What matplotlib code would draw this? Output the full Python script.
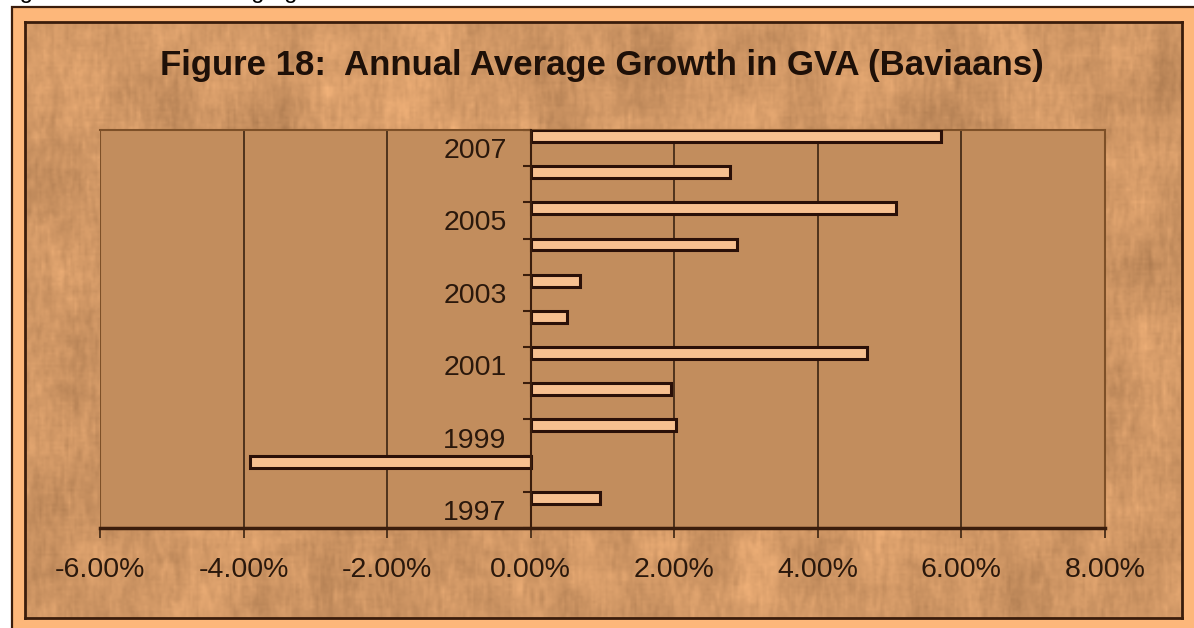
import numpy as np
import matplotlib
matplotlib.use('Agg')
import matplotlib.pyplot as plt
from matplotlib.patches import Rectangle
from matplotlib.ticker import FixedLocator, FuncFormatter

# annual average growth in GVA, Baviaans (percent)
years = [1997, 1998, 1999, 2000, 2001, 2002, 2003, 2004, 2005, 2006, 2007]
growth = [0.97, -3.91, 2.03, 1.95, 4.69, 0.50, 0.68, 2.88, 5.09, 2.77, 5.71]
x_ticks = [-6, -4, -2, 0, 2, 4, 6, 8]

title = 'Figure 18:  Annual Average Growth in GVA (Baviaans)'
caption = 'Figure 18: Annual average growth in GVA'

W, H = 1194, 628
plt.rcParams['font.family'] = ['Liberation Sans', 'DejaVu Sans']

dark = '#3a1d0c'
orange = '#fdb77a'
plot_bg = '#c28d5d'
bar_fill = '#f7c090'
grid_col = '#3b2412'
txt_col = '#2a180c'


def px(x, y):
    # pixel position (from top-left) -> figure fraction
    return x / W, 1 - y / H


def smooth(a, kv, kh):
    kv = np.ones(kv) / kv
    kh = np.ones(kh) / kh
    a = np.apply_along_axis(lambda c: np.convolve(c, kv, mode='same'), 0, a)
    return np.apply_along_axis(lambda r: np.convolve(r, kh, mode='same'), 1, a)


def parchment(h=240, w=560):
    # soft mottled paper: large cloudy blobs plus a fine grain
    rng = np.random.default_rng(5)
    coarse = smooth(rng.normal(size=(h, w)), 25, 21)
    fine = smooth(rng.normal(size=(h, w)), 5, 2)
    coarse /= coarse.std()
    fine /= fine.std()
    n = 0.75 * coarse + 0.45 * fine
    base = np.array([208, 151, 101]) / 255
    tint = np.array([10, 8, 6]) / 255
    img = base[None, None, :] + n[:, :, None] * tint[None, None, :]
    return np.clip(img, 0, 1)


fig = plt.figure(figsize=(W / 100, H / 100), dpi=100, facecolor='white')

# caption line running off the top edge
cx, cy = px(0, -2)
fig.text(cx, cy, caption, fontsize=17, color='black', va='baseline', ha='left')

# orange outer frame
ox, oy = px(12, 7)
fig.add_artist(Rectangle((ox, -0.1), 1.2, oy + 0.1, transform=fig.transFigure,
                         facecolor=orange, edgecolor=dark, lw=1.6, zorder=-5))

# textured chart area
x0, y1 = px(25, 22)
x1, y0 = px(1182, 618)
bg = fig.add_axes([x0, y0, x1 - x0, y1 - y0], zorder=-2)
bg.imshow(parchment(), aspect='auto', interpolation='bilinear', extent=[0, 1, 0, 1])
bg.set_xticks([])
bg.set_yticks([])
for s in bg.spines.values():
    s.set_color(dark)
    s.set_linewidth(2)

# plot area
px0, py1 = px(100, 130)
px1, py0 = px(1105, 528)
ax = fig.add_axes([px0, py0, px1 - px0, py1 - py0])
ax.set_facecolor(plot_bg)

pos = np.arange(len(years))
bar_h = 0.33
ax.barh(pos + 0.5 - bar_h / 2, growth, height=bar_h, color=bar_fill,
        edgecolor='#2a1008', linewidth=2.2, zorder=3)

ax.set_xlim(-6, 8)
ax.set_ylim(-0.5, len(years) - 0.5)

ax.xaxis.set_major_locator(FixedLocator(x_ticks))
ax.xaxis.set_major_formatter(FuncFormatter(lambda v, p: '%.2f%%' % v))
ax.grid(axis='x', color=grid_col, lw=1.2, zorder=1)
ax.tick_params(axis='x', length=7.2, width=1.2, color=grid_col, pad=13.5,
               labelsize=20.5, labelcolor=txt_col)

# year labels on every other slot, ticks between categories
ax.yaxis.set_major_locator(FixedLocator(pos[::2]))
ax.set_yticklabels([str(y) for y in years[::2]])
ax.yaxis.set_minor_locator(FixedLocator(np.arange(-0.5, len(years), 1)))
ax.tick_params(axis='y', which='major', length=0, pad=17.3,
               labelsize=20.5, labelcolor=txt_col)
ax.tick_params(axis='y', which='minor', length=5.8, width=1.5, color=dark)

ax.spines['left'].set_position(('data', 0))
ax.spines['left'].set_color(dark)
ax.spines['left'].set_linewidth(1.5)
ax.spines['left'].set_zorder(4)
ax.spines['bottom'].set_color(dark)
ax.spines['bottom'].set_linewidth(2.5)
ax.spines['top'].set_color('#7d5028')
ax.spines['top'].set_linewidth(1.5)
ax.spines['right'].set_color('#7d5028')
ax.spines['right'].set_linewidth(1.5)
ax.axvline(-6, color='#7d5028', lw=1.5, zorder=2)

tx, ty = px(602, 66)
fig.text(tx, ty, title, fontsize=25, fontweight='bold', color='#1e1008',
         ha='center', va='center')

fig.savefig('out.png', dpi=100, facecolor=fig.get_facecolor())
